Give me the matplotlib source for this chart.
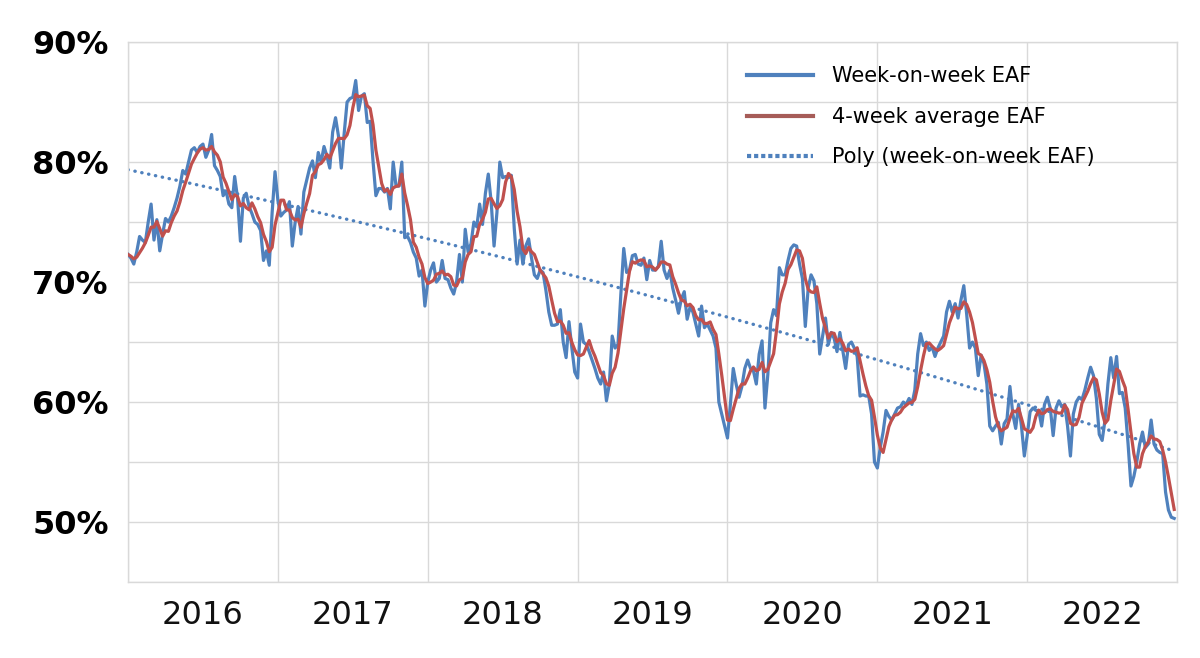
import numpy as np
import pandas as pd
import matplotlib
matplotlib.use("Agg")
import matplotlib.pyplot as plt
from matplotlib.lines import Line2D

# weekly EAF (%), one list per year (52 weeks each)
eaf_2016 = [72.3, 72.0, 71.5, 72.5, 73.8, 73.5, 73.3, 75.0, 76.5, 73.5, 75.2, 72.6, 74.0,
            75.3, 75.0, 75.5, 76.2, 77.0, 78.0, 79.3, 79.0, 80.0, 81.0, 81.2, 80.8, 81.3,
            81.5, 80.4, 81.0, 82.3, 79.7, 79.3, 78.8, 77.2, 77.6, 76.5, 76.2, 78.8, 77.0,
            73.4, 77.0, 77.4, 76.3, 75.7, 75.0, 74.8, 74.3, 71.8, 72.6, 71.4, 75.8, 79.2]
eaf_2017 = [76.8, 75.5, 75.8, 76.0, 76.7, 73.0, 75.0, 76.3, 74.0, 77.5, 78.5, 79.5, 80.1,
            78.7, 80.8, 80.0, 81.3, 80.5, 79.5, 82.5, 83.7, 82.2, 79.5, 82.4, 85.0, 85.3,
            85.4, 86.8, 84.3, 85.5, 85.7, 83.3, 83.4, 80.1, 77.2, 77.8, 77.8, 77.5, 77.8,
            76.1, 80.0, 78.0, 78.0, 80.0, 73.7, 73.8, 73.3, 72.5, 72.0, 70.5, 71.0, 68.0]
eaf_2018 = [70.0, 71.0, 71.6, 70.0, 70.3, 71.8, 70.3, 70.2, 69.5, 69.0, 70.0, 72.3, 70.0,
            74.4, 72.5, 73.2, 75.0, 74.6, 76.5, 74.8, 77.4, 79.0, 76.7, 73.0, 75.8, 80.0,
            78.7, 78.8, 78.7, 78.9, 74.5, 71.5, 73.5, 71.5, 73.0, 73.6, 72.0, 70.6, 70.3,
            71.0, 70.8, 69.3, 67.5, 66.4, 66.4, 66.5, 67.7, 65.0, 63.7, 66.7, 64.5, 62.5]
eaf_2019 = [62.0, 66.5, 65.0, 64.8, 64.2, 63.5, 62.8, 62.0, 61.5, 62.5, 60.1, 61.5, 65.5,
            64.5, 64.8, 69.0, 72.8, 70.8, 71.0, 72.2, 72.3, 71.5, 71.4, 72.0, 70.2, 71.8,
            71.0, 71.0, 71.3, 73.4, 71.0, 70.3, 71.0, 69.5, 68.5, 67.4, 68.6, 69.2, 66.9,
            67.9, 67.5, 66.5, 65.5, 68.0, 66.2, 66.5, 66.0, 65.5, 64.5, 60.0, 59.0, 58.0]
eaf_2020 = [57.0, 59.8, 62.8, 61.5, 60.4, 61.3, 62.8, 63.5, 62.8, 62.6, 61.5, 64.0, 65.1,
            59.5, 62.3, 66.6, 67.7, 67.2, 71.2, 70.6, 70.6, 71.8, 72.8, 73.1, 73.0, 71.5,
            70.3, 66.3, 69.5, 70.6, 70.1, 68.2, 64.0, 65.5, 67.0, 64.8, 65.8, 65.3, 64.2,
            65.8, 64.3, 62.8, 64.8, 65.0, 64.5, 63.8, 60.5, 60.6, 60.5, 60.5, 59.0, 55.0]
eaf_2021 = [54.5, 56.2, 57.5, 59.3, 58.8, 58.5, 59.0, 59.5, 59.6, 60.0, 59.8, 60.3, 59.8,
            61.0, 64.0, 65.7, 64.7, 65.0, 64.3, 64.6, 63.8, 64.5, 65.0, 65.5, 67.5, 68.4,
            67.5, 68.2, 67.0, 68.5, 69.7, 67.3, 64.5, 65.0, 64.5, 62.2, 63.9, 63.2, 61.5,
            58.0, 57.6, 58.0, 58.3, 56.5, 58.2, 58.6, 61.3, 59.0, 57.8, 59.8, 58.0, 55.5]
eaf_2022 = [57.2, 59.2, 59.5, 59.3, 59.3, 58.0, 59.8, 60.4, 59.5, 57.2, 59.5, 60.1, 59.6,
            59.8, 58.0, 55.5, 59.0, 60.0, 60.4, 60.2, 61.0, 62.0, 62.9, 62.2, 60.3, 57.3,
            56.8, 58.5, 61.5, 63.7, 62.0, 63.8, 60.7, 60.8, 59.5, 56.5, 53.0, 53.8, 55.0,
            56.5, 57.5, 56.2, 56.5, 58.5, 56.5, 56.0, 55.8, 55.7, 52.5, 51.0, 50.4, 50.3]

years = ["2016", "2017", "2018", "2019", "2020", "2021", "2022"]
y_labels = ["50%", "60%", "70%", "80%", "90%"]

weekly = np.array(eaf_2016 + eaf_2017 + eaf_2018 + eaf_2019 + eaf_2020 + eaf_2021 + eaf_2022)
weeks = np.arange(len(weekly))
avg4 = pd.Series(weekly).rolling(4, min_periods=1).mean().values
coef = np.polyfit(weeks, weekly, 2)
trend = np.polyval(coef, weeks)

blue = "#4F81BD"
red = "#C0504D"
grid_c = "#D9D9D9"

fig = plt.figure(figsize=(12, 6.58), dpi=100)
ax = fig.add_axes([0.1067, 0.1155, 0.8742, 0.8205])

ax.plot(weeks, weekly, color=blue, lw=2.3, zorder=3)
ax.plot(weeks, avg4, color=red, lw=2.3, zorder=4)
ax.plot(weeks, trend, color=blue, lw=2.4, linestyle=(0, (0.1, 2.0)),
        dash_capstyle="round", zorder=2)

ax.set_xlim(0, 52 * len(years))
ax.set_ylim(45, 90)

ax.set_xticks(np.arange(0, 52 * len(years) + 1, 52), minor=True)
ax.set_xticks(np.arange(26, 52 * len(years), 52))
ax.set_xticklabels(years)
ax.set_yticks([50, 60, 70, 80, 90])
ax.set_yticklabels(y_labels)
ax.set_yticks(np.arange(45, 90, 5), minor=True)

ax.grid(which="minor", axis="x", color=grid_c, lw=1.0)
ax.grid(which="both", axis="y", color=grid_c, lw=1.0)
ax.set_axisbelow(True)
for s in ax.spines.values():
    s.set_color(grid_c)
    s.set_linewidth(1.0)

ax.tick_params(which="both", length=0)
ax.tick_params(axis="x", labelsize=23, pad=13, labelcolor="#111111")
ax.tick_params(axis="y", labelsize=23, pad=14)
for t in ax.get_yticklabels():
    t.set_fontweight("bold")

handles = [
    Line2D([], [], color=blue, lw=3.0),
    Line2D([], [], color="#A65C58", lw=3.0),
    Line2D([], [], color=blue, lw=3.0, linestyle=(0, (1, 0.7))),
]
labels = ["Week-on-week EAF", "4-week average EAF", "Poly (week-on-week EAF)"]
ax.legend(handles, labels, loc="upper left", bbox_to_anchor=(0.59, 0.955),
          frameon=False, fontsize=15, handlelength=3.15, handletextpad=0.95,
          labelspacing=0.98, borderpad=0, borderaxespad=0)

fig.savefig("out.png", dpi=100)
